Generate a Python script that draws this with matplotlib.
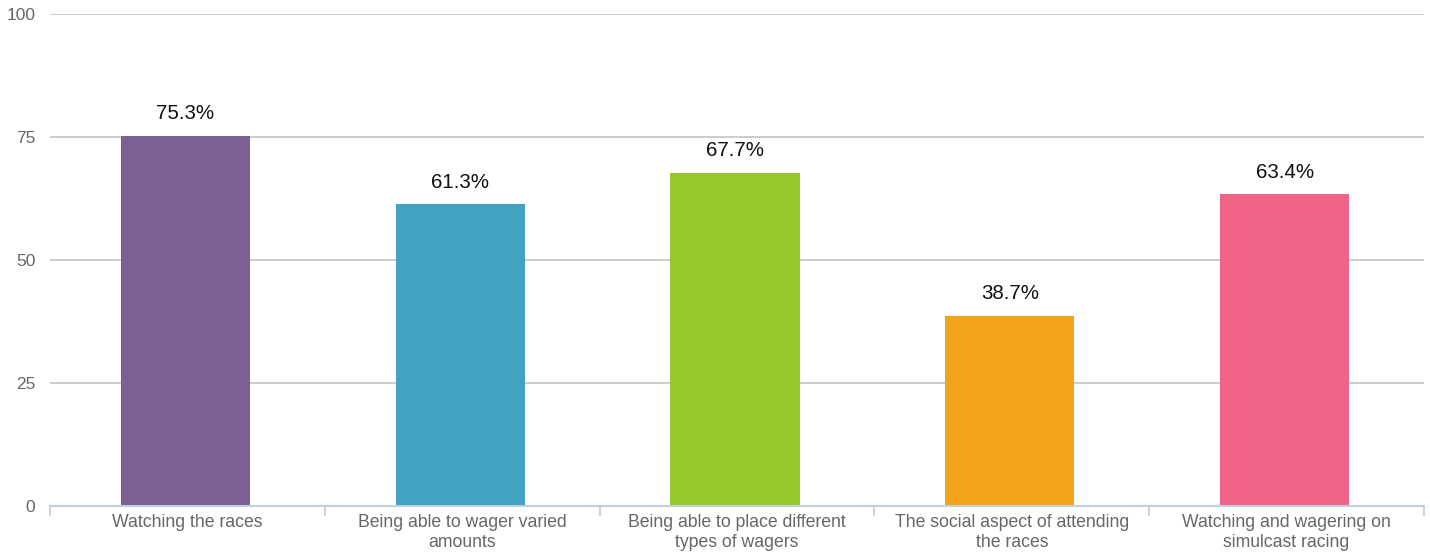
import matplotlib
matplotlib.use("Agg")
import matplotlib.pyplot as plt
import numpy as np

categories = ["Watching the races", "Being able to wager varied\namounts",
              "Being able to place different\ntypes of wagers",
              "The social aspect of attending\nthe races",
              "Watching and wagering on\nsimulcast racing"]
values = [75.3, 61.3, 67.7, 38.7, 63.4]
colors = ["#7b6093", "#41a2c2", "#95c828", "#f4a41b", "#f06487"]
yticks = [0, 25, 50, 75, 100]

plt.rcParams['font.family'] = ['Liberation Sans', 'DejaVu Sans']
fig = plt.figure(figsize=(14.3, 5.56), dpi=100)
ax = fig.add_axes([50/1430, 1-506/556, 1374/1430, 492/556])
x = np.arange(len(categories))
ax.bar(x - 0.007, values, width=0.47, color=colors, zorder=3)
for xi, v in zip(x, values):
    ax.annotate(f"{v}%", (xi - 0.007, v), xytext=(0, 9), textcoords="offset points",
                ha="center", va="bottom", fontsize=14.8, color="#111111")
ax.set_xlim(-0.5, len(categories)-0.5)
ax.set_ylim(0, 100)
ax.set_yticks(yticks)
ax.set_yticklabels([str(t) for t in yticks], fontsize=12.5, color="#666666")
ax.yaxis.grid(True, color="#c8c8c8", linewidth=1.3, zorder=0)
ax.tick_params(axis='y', length=0, pad=10.5)
ax.set_xticks(x)
ax.set_xticklabels(categories, fontsize=12.7, color="#666666", linespacing=1.2)
ax.tick_params(axis='x', length=0, pad=6)
ax.set_xticks(np.arange(len(categories)+1) - 0.5, minor=True)
ax.tick_params(axis='x', which='minor', length=7, color="#c0d0e0", width=1.3)
for s in ["top", "right", "left"]:
    ax.spines[s].set_visible(False)
ax.spines["bottom"].set_color("#c0d0e0")
ax.spines["bottom"].set_linewidth(1.5)
ax.spines["bottom"].set_zorder(4)
fig.savefig("out.png", dpi=100)
